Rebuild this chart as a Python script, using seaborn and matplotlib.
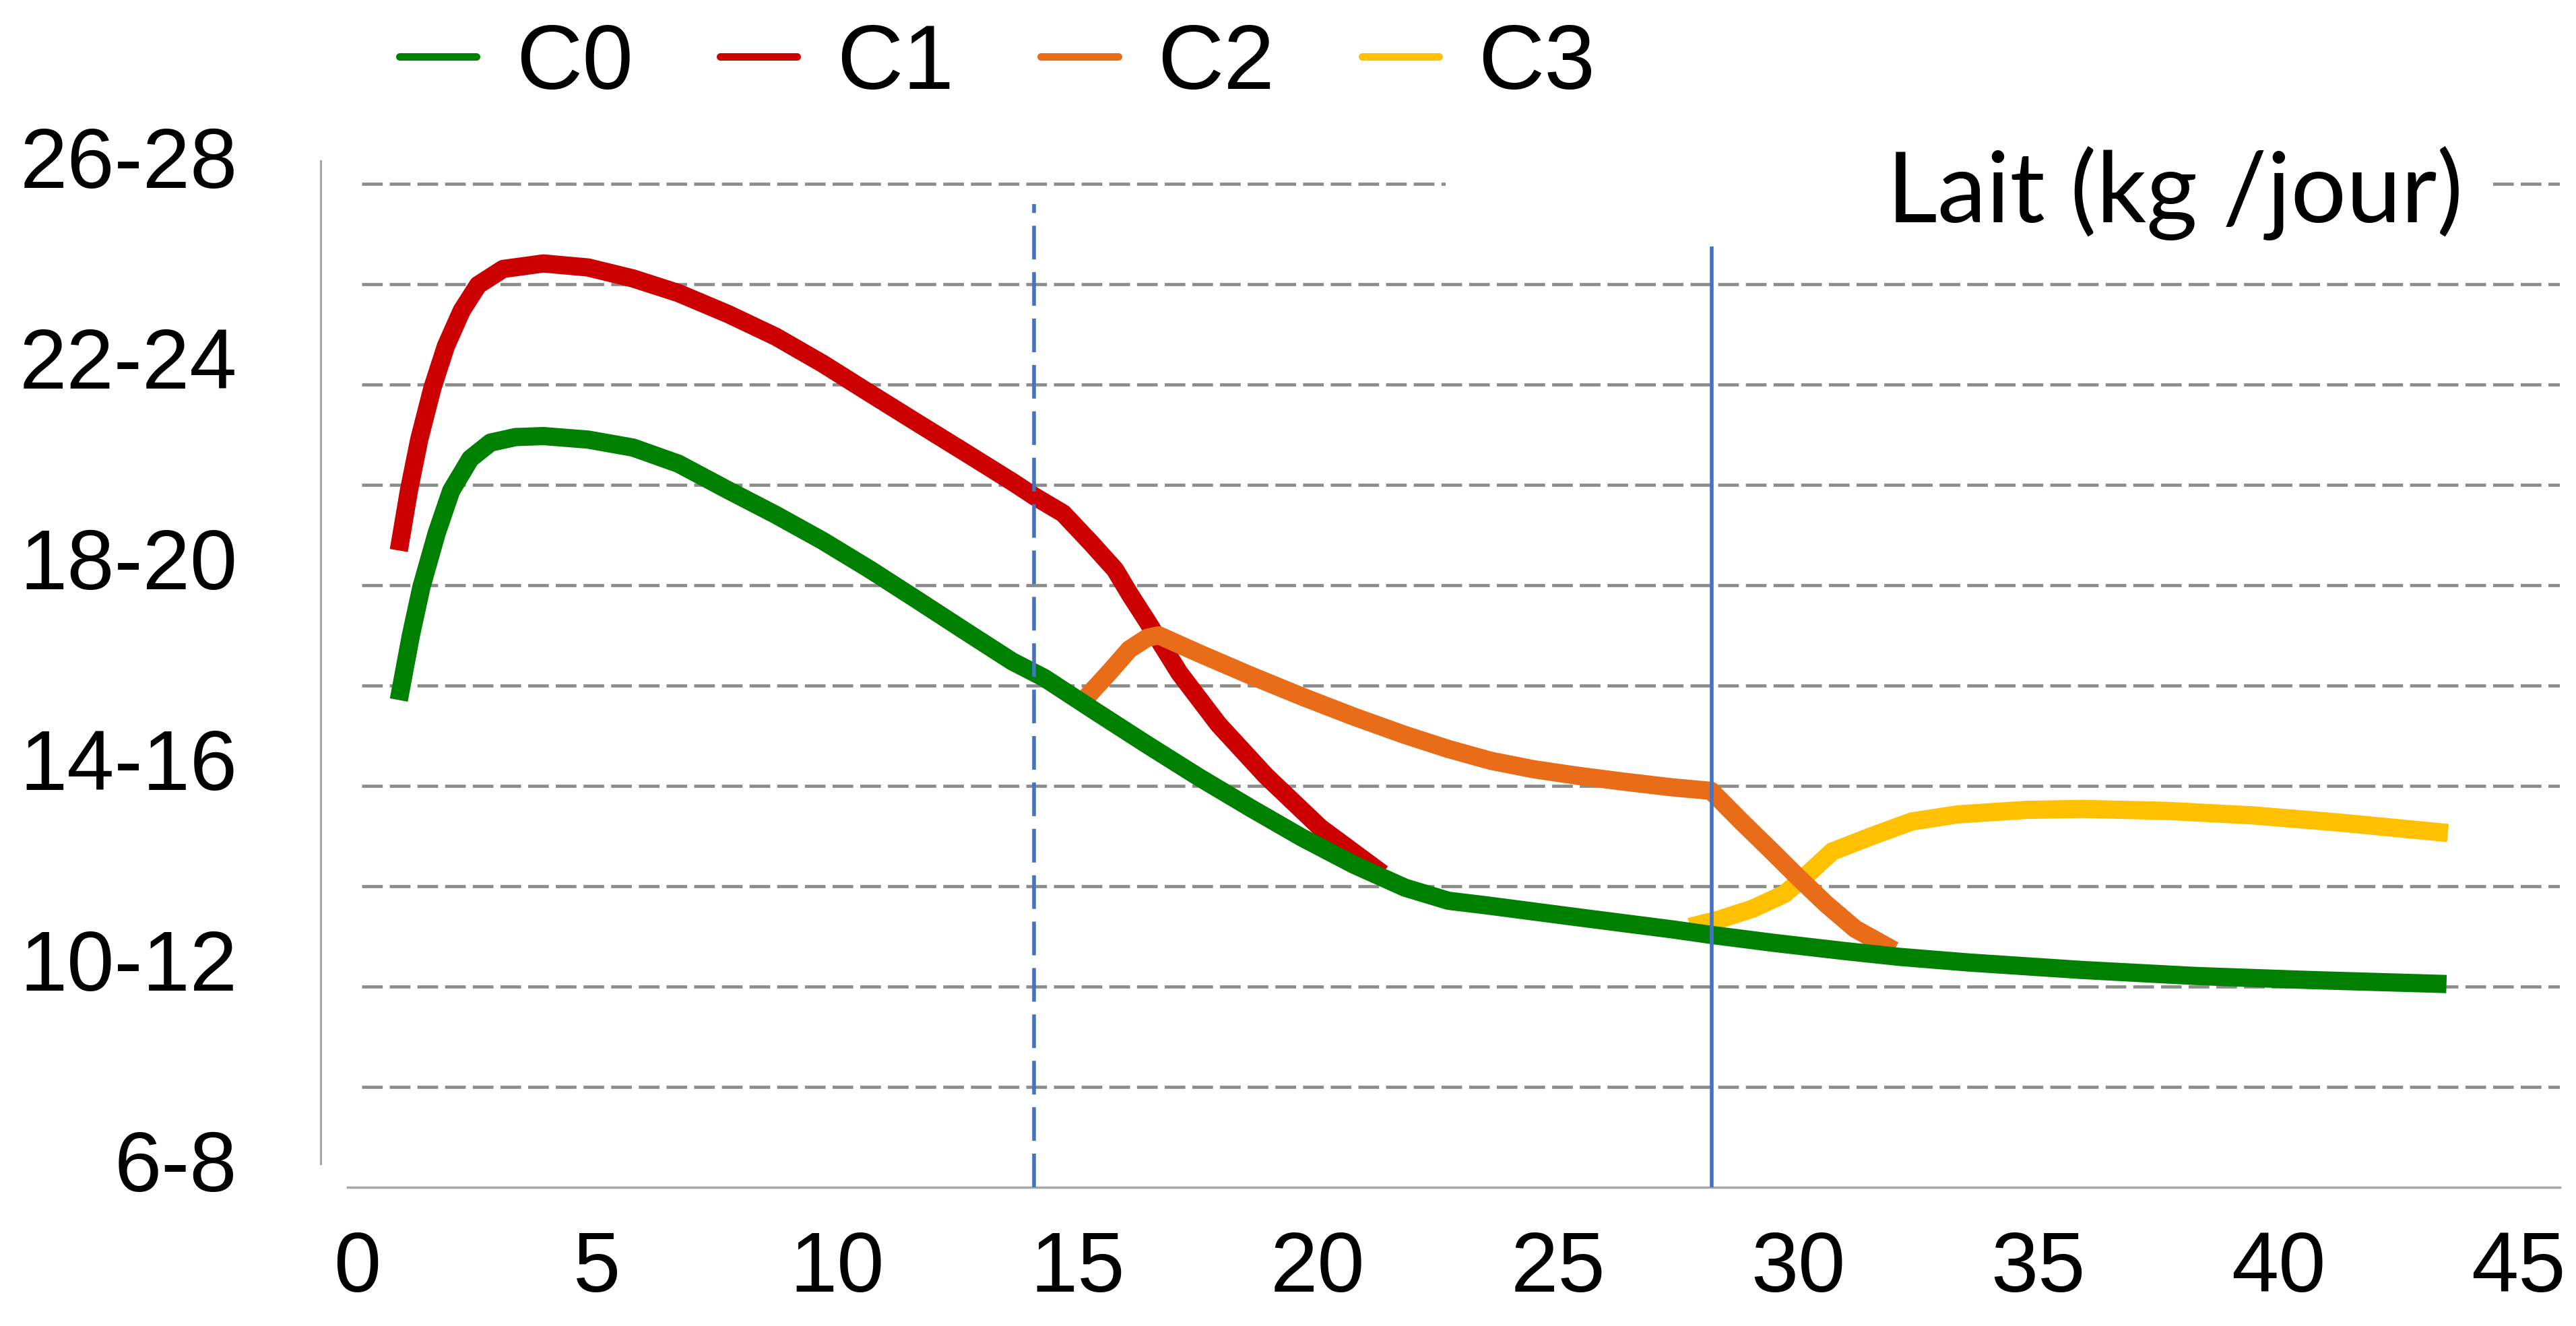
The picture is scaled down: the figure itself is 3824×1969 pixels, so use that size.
import pandas as pd
import seaborn as sns
import matplotlib.pyplot as plt
from matplotlib.lines import Line2D
from matplotlib.patches import Rectangle
from matplotlib.transforms import ScaledTranslation

# courbes de lactation (jour, lait kg/jour)
c0_x = [0.87, 1.12, 1.34, 1.66, 1.96, 2.36, 2.78, 3.3, 3.88, 4.81, 5.75, 6.69, 7.73, 8.72, 9.70,
        10.68, 11.67, 12.65, 13.64, 14.31, 15.38, 16.45, 17.53, 18.60, 19.67, 20.75, 21.82, 22.72,
        23.5, 25.42, 27.38, 28.19, 29.5, 30.95, 32.13, 33.55, 35.92, 38.29, 40.66, 43.50]
c0_y = [15.71, 16.99, 17.96, 19.04, 19.88, 20.52, 20.84, 20.95, 20.97, 20.90, 20.74, 20.42, 19.89,
        19.40, 18.88, 18.31, 17.70, 17.09, 16.48, 16.15, 15.48, 14.82, 14.17, 13.56, 12.97, 12.43,
        11.97, 11.71, 11.62, 11.38, 11.14, 11.03, 10.87, 10.71, 10.59, 10.48, 10.33, 10.21, 10.13, 10.05]

c1_x = [0.87, 1.08, 1.295, 1.57, 1.85, 2.18, 2.52, 3.04, 3.88, 4.81, 5.75, 6.69, 7.73, 8.72, 9.70,
        10.68, 11.67, 12.65, 13.64, 14.1, 14.7, 15.3, 15.78, 16.1, 16.45, 17.12, 17.93, 18.92,
        20.05, 21.35]
c1_y = [18.69, 19.88, 20.90, 21.93, 22.76, 23.47, 23.98, 24.30, 24.41, 24.33, 24.11, 23.82, 23.40,
        22.95, 22.41, 21.82, 21.23, 20.65, 20.06, 19.77, 19.43, 18.82, 18.31, 17.8, 17.28, 16.25,
        15.23, 14.20, 13.17, 12.25]

c2_x = [15.19, 15.65, 16.08, 16.45, 16.69, 17.53, 18.6, 19.67, 20.75, 21.8, 22.7, 23.6, 24.5,
        25.42, 26.4, 27.38, 28.19, 28.82, 29.41, 30.0, 30.59, 31.19, 32.0]
c2_y = [15.77, 16.25, 16.72, 16.95, 17.0, 16.64, 16.2, 15.78, 15.38, 15.02, 14.74, 14.5, 14.33,
        14.2, 14.08, 13.97, 13.9, 13.29, 12.74, 12.18, 11.64, 11.15, 10.72]

c3_x = [27.75, 28.34, 29.05, 29.71, 30.18, 30.71, 31.54, 32.37, 33.32, 34.74, 35.92, 37.7, 39.48,
        41.25, 43.53]
c3_y = [11.19, 11.33, 11.55, 11.84, 12.22, 12.69, 13.0, 13.29, 13.43, 13.52, 13.54, 13.5, 13.41,
        13.27, 13.06]

courbes = ['C0', 'C1', 'C2', 'C3']
couleurs = {'C0': '#008000', 'C1': '#cc0000', 'C2': '#e96c18', 'C3': '#ffc000'}

y_ticks = [6, 10, 14, 18, 22, 26]
y_labels = ['6-8', '10-12', '14-16', '18-20', '22-24', '26-28']
x_ticks = list(range(0, 50, 5))
grid_y = list(range(8, 27, 2))

df = pd.concat([
    pd.DataFrame({'jour': c0_x, 'lait': c0_y, 'courbe': 'C0'}),
    pd.DataFrame({'jour': c1_x, 'lait': c1_y, 'courbe': 'C1'}),
    pd.DataFrame({'jour': c2_x, 'lait': c2_y, 'courbe': 'C2'}),
    pd.DataFrame({'jour': c3_x, 'lait': c3_y, 'courbe': 'C3'}),
], ignore_index=True)

sns.set_theme(style='white')
plt.rcParams['font.family'] = ['Liberation Sans', 'DejaVu Sans']
plt.rcParams['text.color'] = 'black'
plt.rcParams['xtick.color'] = 'black'
plt.rcParams['ytick.color'] = 'black'

fig = plt.figure(figsize=(38.24, 19.69), dpi=100)
ax = fig.add_axes([0.12448, 0.10462, 0.86924, 0.77958])

# grille pointillee
ax.hlines(grid_y, 0.1, 45.86, colors='#8c8c8c', linewidth=3.4,
          linestyles=(0, (6.5, 2.2)), zorder=1)
# cadre blanc du titre qui masque la ligne du haut
ax.add_patch(Rectangle((22.66, 25.6), 21.8, 0.8, facecolor='white', edgecolor='none', zorder=1.5))

# ordre de trace: rouge dessous, vert dessus
sns.lineplot(data=df, x='jour', y='lait', hue='courbe', hue_order=['C1', 'C3', 'C2', 'C0'],
             palette=couleurs, estimator=None, sort=False, linewidth=19.5, legend=False, ax=ax,
             solid_capstyle='butt', solid_joinstyle='round', zorder=2)

ax.vlines(14.1, 6, 25.6, colors='#4472c4', linewidth=4, linestyles=(0, (9, 3.4)), zorder=3)
ax.vlines(28.2, 6, 24.75, colors='#4472c4', linewidth=4, zorder=3)

ax.text(31.85, 25.23, 'Lait (kg /jour)', fontsize=105, family=['Lato', 'DejaVu Sans'],
        color='black', ha='left', va='baseline', zorder=4)

ax.set_xlim(-0.757, 45.86)
ax.set_ylim(6, 26.6)
ax.set_xticks(x_ticks)
ax.set_yticks(y_ticks, labels=y_labels)
ax.set_xlabel('')
ax.set_ylabel('')
ax.tick_params(axis='both', length=0, labelsize=91, labelcolor='black')
ax.tick_params(axis='y', pad=89)
ax.tick_params(axis='x', pad=45)
for lab in ax.get_yticklabels():
    lab.set_transform(lab.get_transform() + ScaledTranslation(0, 0.40, fig.dpi_scale_trans))

for s in ['top', 'right']:
    ax.spines[s].set_visible(False)
ax.spines['left'].set_color('#a6a6a6')
ax.spines['left'].set_linewidth(2.2)
ax.spines['left'].set_bounds(6.47, 26.45)
ax.spines['bottom'].set_color('#a6a6a6')
ax.spines['bottom'].set_linewidth(2.5)
ax.spines['bottom'].set_bounds(-0.2, 45.86)

handles = [Line2D([0], [0], color=couleurs[c], lw=8, solid_capstyle='round') for c in courbes]
fig.legend(handles, courbes, loc='center left', bbox_to_anchor=(593 / 3824, 1 - 97 / 1969),
           ncol=4, frameon=False, fontsize=98, handlelength=0.84, handletextpad=0.43,
           columnspacing=0.95, borderpad=0, borderaxespad=0, labelcolor='black')

fig.savefig('out.png', dpi=100)
plt.close(fig)
